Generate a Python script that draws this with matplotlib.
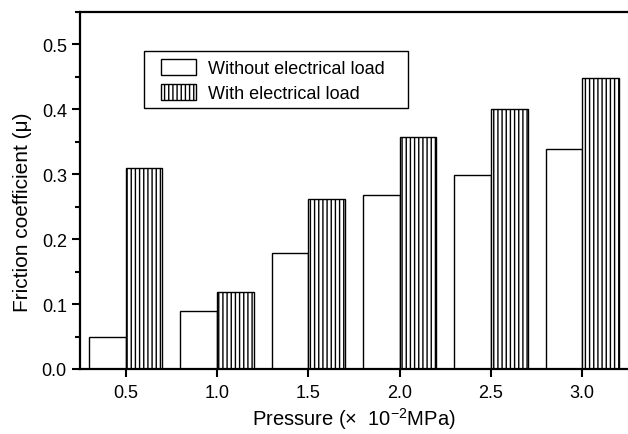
import numpy as np
import matplotlib
matplotlib.use('Agg')
import matplotlib.pyplot as plt
from matplotlib.ticker import MultipleLocator
from matplotlib.patches import Rectangle

plt.rcParams['font.family'] = ['Liberation Sans', 'DejaVu Sans']
plt.rcParams['mathtext.default'] = 'regular'
plt.rcParams['hatch.linewidth'] = 1.0

# data
pressure = [0.5, 1.0, 1.5, 2.0, 2.5, 3.0]
without_load = [0.05, 0.089, 0.178, 0.268, 0.299, 0.339]
with_load = [0.31, 0.118, 0.262, 0.358, 0.40, 0.449]
tick_labels = ['0.5', '1.0', '1.5', '2.0', '2.5', '3.0']

W, H = 628, 435
fig = plt.figure(figsize=(W / 100, H / 100), dpi=100)
ax = fig.add_axes([80 / W, 65 / H, 548 / W, 357 / H])

x = np.array(pressure)
w = 0.2
ax.bar(x - w / 2, without_load, width=w, color='white', edgecolor='black',
       linewidth=1.0, label='Without electrical load')
ax.bar(x + w / 2, with_load, width=w, color='white', edgecolor='black',
       linewidth=1.0, hatch='||||', label='With electrical load')

ax.set_xlim(0.25, 3.25)
ax.set_ylim(0, 0.55)
ax.set_xticks(pressure)
ax.set_xticklabels(tick_labels)
ax.yaxis.set_minor_locator(MultipleLocator(0.05))
ax.set_yticks(np.arange(0, 0.51, 0.1))
ax.set_yticklabels(['0.0', '0.1', '0.2', '0.3', '0.4', '0.5'])

for s in ['left', 'bottom', 'top']:
    ax.spines[s].set_linewidth(1.6)
ax.spines['right'].set_visible(False)
ax.tick_params(axis='both', which='major', direction='out', length=6, width=1.5,
               labelsize=13, top=False, right=False)
ax.tick_params(axis='y', which='minor', direction='out', length=3.5, width=1.5)
ax.tick_params(axis='x', pad=5)

ax.set_ylabel('Friction coefficient (\u03bc)', fontsize=15)
ax.yaxis.set_label_coords(-0.088, 0.443)
ax.set_xlabel('Pressure (\u00d7  10$^{-2}$MPa)', fontsize=14.5, labelpad=3)

# legend without frame, box drawn separately to match the wide padding
leg = ax.legend(loc='upper left', bbox_to_anchor=(0.148, 0.868),
                fontsize=13, frameon=False, borderpad=0, borderaxespad=0,
                handlelength=1.95, handleheight=0.95, handletextpad=0.65,
                labelspacing=0.38)
fig.patches.append(Rectangle((144 / W, 1 - 109 / H), 264 / W, 57 / H,
                             transform=fig.transFigure, fill=False,
                             edgecolor='black', linewidth=1.0, zorder=5))

plt.savefig('out.png', dpi=100)
